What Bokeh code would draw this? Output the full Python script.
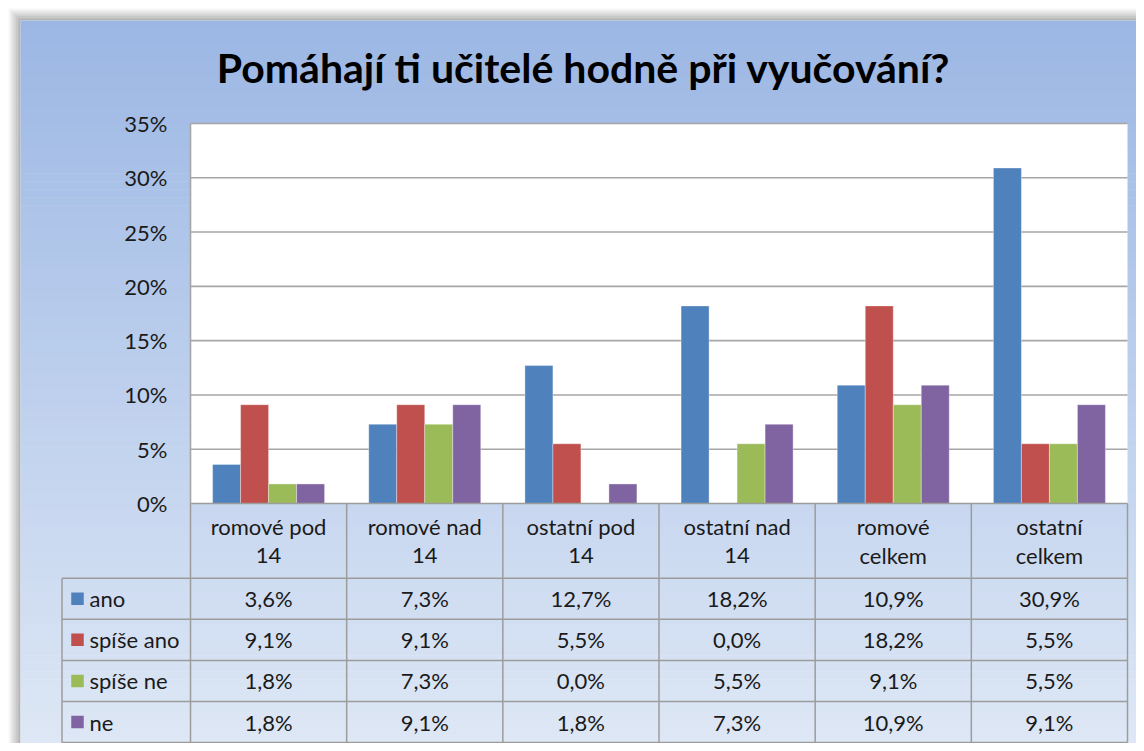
from bokeh.plotting import figure
from bokeh.models import Range1d
from bokeh.core.properties import value
from bokeh.embed import file_html
from bokeh.resources import INLINE

# ---------------- data ----------------
title = "Pomáhají ti učitelé hodně při vyučování?"
categories = ["romové pod 14", "romové nad 14", "ostatní pod 14",
              "ostatní nad 14", "romové celkem", "ostatní celkem"]
cat_lines = [("romové pod", "14"), ("romové nad", "14"), ("ostatní pod", "14"),
             ("ostatní nad", "14"), ("romové", "celkem"), ("ostatní", "celkem")]
series = ["ano", "spíše ano", "spíše ne", "ne"]
ano = [3.6, 7.3, 12.7, 18.2, 10.9, 30.9]
spise_ano = [9.1, 9.1, 5.5, 0.0, 18.2, 5.5]
spise_ne = [1.8, 7.3, 0.0, 5.5, 9.1, 5.5]
ne = [1.8, 9.1, 1.8, 7.3, 10.9, 9.1]
values = [ano, spise_ano, spise_ne, ne]
colors = ["#4F81BD", "#C0504D", "#9BBB59", "#8064A2"]
y_ticks = [0, 5, 10, 15, 20, 25, 30, 35]
y_tick_labels = [f"{t}%" for t in y_ticks]

# ---------------- layout (pixel geometry) ----------------
W, H = 1136, 743
PLOT_LEFT = 190.0
COL_W = (1127.0 - 190.0) / 6
Y0 = 503.0
PX_PCT = 380.0 / 35.0

def px2x(px):
    return (px - PLOT_LEFT) / COL_W - 0.5

def px2y(py):
    return (Y0 - py) / PX_PCT

FONT = "Lato"
FS = "22px"

p = figure(width=W, height=H, output_backend="svg", toolbar_location=None,
           x_range=Range1d(px2x(0), px2x(W)),
           y_range=Range1d(px2y(H), px2y(0)),
           min_border=0, outline_line_color=None)
p.axis.visible = False
p.grid.visible = False
p.background_fill_color = "white"
p.border_fill_color = "white"

# shadow around chart area (top and left)
sh_n = 8
for k in range(sh_n):
    a = 0.05 + 0.06 * k
    d0 = 8 + k * 1.5
    d1 = d0 + 1.5
    p.quad(left=[px2x(d0)], right=[px2x(W)], top=[px2y(d0)], bottom=[px2y(d1)],
           fill_color="#606060", fill_alpha=a, line_color=None)
    p.quad(left=[px2x(d0)], right=[px2x(d1)], top=[px2y(d1)], bottom=[px2y(H)],
           fill_color="#606060", fill_alpha=a, line_color=None)

# chart area gradient background
top_c = (156, 183, 228)
bot_c = (221, 231, 245)
n = 90
y_top_px, y_bot_px = 20.0, float(H)
lefts, rights, tops, bottoms, fills = [], [], [], [], []
for i in range(n):
    t = i / (n - 1)
    c = tuple(int(round(top_c[j] + (bot_c[j] - top_c[j]) * t)) for j in range(3))
    a = y_top_px + (y_bot_px - y_top_px) * i / n
    b = y_top_px + (y_bot_px - y_top_px) * (i + 1) / n + 0.6
    lefts.append(px2x(20)); rights.append(px2x(W))
    tops.append(px2y(a)); bottoms.append(px2y(b))
    fills.append("#%02x%02x%02x" % c)
p.quad(left=lefts, right=rights, top=tops, bottom=bottoms, fill_color=fills, line_color=None)

ncat = len(categories)
xl, xr = -0.5, ncat - 0.5
# plot area
p.quad(left=[xl], right=[xr], bottom=[0], top=[y_ticks[-1]], fill_color="white", line_color=None)
GRID = "#A6A6A6"
p.segment(x0=[xl] * (len(y_ticks) - 1), x1=[xr] * (len(y_ticks) - 1), y0=y_ticks[1:], y1=y_ticks[1:],
          line_color=GRID, line_width=1.6)
p.segment(x0=[xl], x1=[xl], y0=[0], y1=[y_ticks[-1]], line_color=GRID, line_width=1.6)

# bars
bw = 28.0 / COL_W
for s, (vals, col) in enumerate(zip(values, colors)):
    xs = [i + (s - 1.5) * bw for i in range(ncat)]
    p.vbar(x=xs, top=vals, bottom=0, width=bw, fill_color=col,
           line_color="white", line_alpha=0.35, line_width=1)

# y tick labels
p.text(x=[px2x(167)] * len(y_ticks), y=y_ticks, text=y_tick_labels,
       text_align="right", text_baseline="middle", text_font=value(FONT),
       text_font_size=FS, text_color="#1a1a1a")

# data table
TBL = "#9C9C9C"
header_bottom = px2y(577.7)
row_h = 41.1 / PX_PCT
row_lines = [header_bottom - k * row_h for k in range(len(series) + 1)]
legend_left = px2x(61.5)
vx = [xl + k for k in range(ncat + 1)]
p.segment(x0=vx, x1=vx, y0=[0] * len(vx), y1=[row_lines[-1]] * len(vx), line_color=TBL, line_width=1.5)
p.segment(x0=[xl], x1=[xr], y0=[0], y1=[0], line_color=TBL, line_width=1.5)
p.segment(x0=[legend_left] * len(row_lines), x1=[xr] * len(row_lines), y0=row_lines, y1=row_lines,
          line_color=TBL, line_width=1.5)
p.segment(x0=[legend_left], x1=[legend_left], y0=[row_lines[0]], y1=[row_lines[-1]],
          line_color=TBL, line_width=1.5)

# category labels (two lines)
p.text(x=list(range(ncat)), y=[px2y(526)] * ncat, text=[c[0] for c in cat_lines],
       text_align="center", text_baseline="middle", text_font=value(FONT),
       text_font_size=FS, text_color="#1a1a1a")
p.text(x=list(range(ncat)), y=[px2y(555)] * ncat, text=[c[1] for c in cat_lines],
       text_align="center", text_baseline="middle", text_font=value(FONT),
       text_font_size=FS, text_color="#1a1a1a")

# rows
for r, (name, vals, col) in enumerate(zip(series, values, colors)):
    yc = (row_lines[r] + row_lines[r + 1]) / 2
    p.scatter(x=[px2x(77)], y=[yc], marker="square", size=12.5, fill_color=col, line_color=None)
    p.text(x=[px2x(89)], y=[yc], text=[name], text_align="left", text_baseline="middle",
           text_font=value(FONT), text_font_size=FS, text_color="#1a1a1a")
    labels = [f"{v:.1f}%".replace(".", ",") for v in vals]
    p.text(x=list(range(ncat)), y=[yc] * ncat, text=labels, text_align="center",
           text_baseline="middle", text_font=value(FONT), text_font_size=FS,
           text_color="#1a1a1a")

# title
p.text(x=[px2x(583)], y=[px2y(67)], text=[title], text_align="center", text_baseline="middle",
       text_font=value(FONT), text_font_style="bold", text_font_size="41px", text_color="black")

open("out.html", "w").write(file_html(p, INLINE))
